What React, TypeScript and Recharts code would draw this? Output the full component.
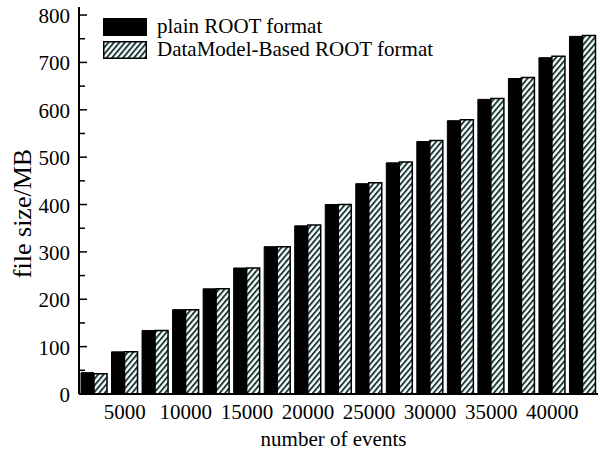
import React from 'react';
import { BarChart, Bar, XAxis, YAxis } from 'recharts';

const events = [2500, 5000, 7500, 10000, 12500, 15000, 17500, 20000, 22500, 25000, 27500, 30000, 32500, 35000, 37500, 40000, 42500];
const plainRoot = [45, 89, 134, 178, 222, 266, 311, 355, 400, 444, 488, 533, 577, 622, 666, 710, 755];
const dataModelRoot = [43, 89, 134, 178, 222, 266, 311, 357, 400, 446, 490, 535, 579, 624, 668, 713, 757];
const yTicks = [0, 50, 100, 150, 200, 250, 300, 350, 400, 450, 500, 550, 600, 650, 700, 750, 800];
const seriesNames = ['plain ROOT format', 'DataModel-Based ROOT format'];

const data = events.map((e, i) => ({ events: e, plain: plainRoot[i], dm: dataModelRoot[i] }));

const FONT = '"Liberation Serif", "Times New Roman", serif';
const HATCH = '#163a38';

const YTick = (props: any) => {
  const { x, y, payload } = props;
  const v = payload.value;
  const major = v % 100 === 0;
  return (
    <g>
      <line x1={x} x2={x + (major ? 8 : 6)} y1={y} y2={y} stroke="#000" strokeWidth={1.5} />
      {major && (
        <text x={x - 9} y={y} dy={8} textAnchor="end" fontSize={21} fontFamily={FONT} fill="#000">
          {v}
        </text>
      )}
    </g>
  );
};

const HatchDef = ({ id }: { id: string }) => (
  <defs>
    <pattern id={id} patternUnits="userSpaceOnUse" width="4.2" height="4.2" patternTransform="rotate(40)">
      <rect x="0" y="0" width="4.2" height="4.2" fill="#fff" />
      <rect x="0" y="0" width="1.9" height="4.2" fill={HATCH} />
    </pattern>
  </defs>
);

export default function App() {
  return (
    <div style={{ position: 'absolute', left: 0, top: 0, width: 600, height: 452, background: '#fff' }}>
      <BarChart
        width={600}
        height={452}
        data={data}
        margin={{ top: 7, right: 2, bottom: 0, left: 0 }}
        barGap={0}
        barSize={13}
      >
        <HatchDef id="hatch" />
        <XAxis
          dataKey="events"
          interval={0}
          tickLine={false}
          tickSize={8}
          tickMargin={2}
          height={58}
          axisLine={{ stroke: '#000', strokeWidth: 2 }}
          tickFormatter={(v: number) => (v % 5000 === 0 ? String(v) : '')}
          tick={{ fill: '#000', fontSize: 21, fontFamily: FONT }}
          label={{
            value: 'number of events',
            position: 'insideBottom',
            offset: 6,
            dx: -5,
            style: { fill: '#000', fontSize: 21, fontFamily: FONT },
          }}
        />
        <YAxis
          width={79}
          domain={[0, 817]}
          ticks={yTicks}
          interval={0}
          tickLine={false}
          tickSize={0}
          tickMargin={0}
          axisLine={{ stroke: '#000', strokeWidth: 2 }}
          tick={<YTick />}
          allowDataOverflow
          label={{
            value: 'file size/MB',
            angle: -90,
            position: 'insideLeft',
            offset: 22,
            dy: 13,
            style: { fill: '#000', fontSize: 26, fontFamily: FONT, textAnchor: 'middle' },
          }}
        />
        <Bar dataKey="plain" name={seriesNames[0]} fill="#000" stroke="#000" strokeWidth={1} isAnimationActive={false} />
        <Bar dataKey="dm" name={seriesNames[1]} fill="url(#hatch)" stroke="#000" strokeWidth={1.5} isAnimationActive={false} />
      </BarChart>
      <div
        style={{
          position: 'absolute',
          left: 103,
          top: 15,
          fontFamily: FONT,
          fontSize: 21,
          color: '#000',
          lineHeight: '23px',
        }}
      >
        {seriesNames.map((name, i) => (
          <div key={name} style={{ display: 'flex', alignItems: 'center', height: 23 }}>
            <svg width={44} height={18} style={{ display: 'block', marginRight: 10 }}>
              <HatchDef id={'hatchLegend' + i} />
              <rect
                x={0.75}
                y={0.75}
                width={42.5}
                height={16.5}
                fill={i === 0 ? '#000' : 'url(#hatchLegend' + i + ')'}
                stroke="#000"
                strokeWidth={1.5}
              />
            </svg>
            <span>{name}</span>
          </div>
        ))}
      </div>
    </div>
  );
}
